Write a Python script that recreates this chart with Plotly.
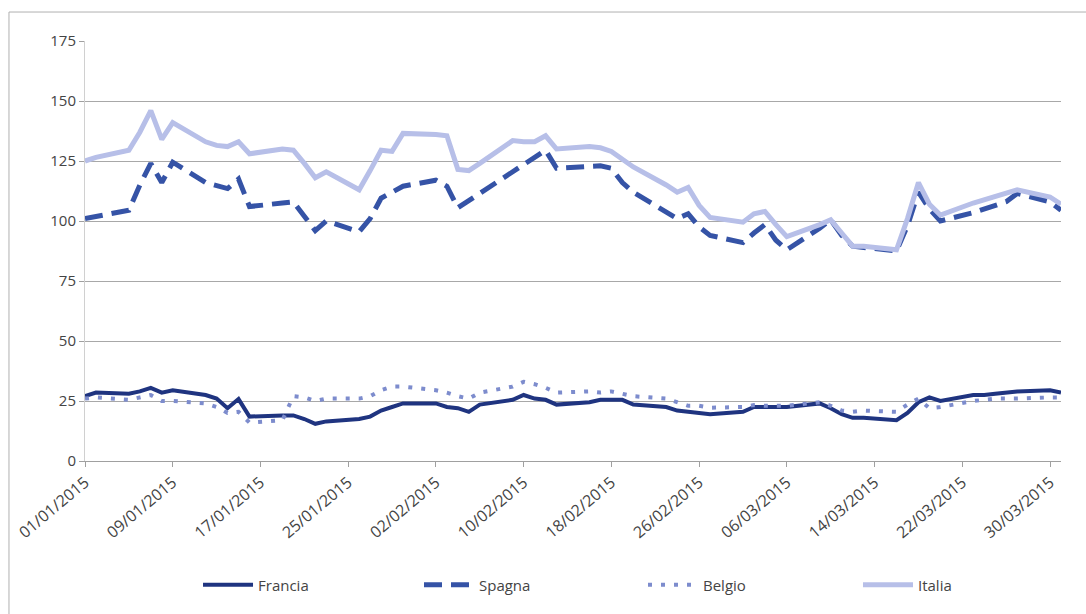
import plotly.graph_objects as go

dates = (
    ["2015-01-%02d" % d for d in [1, 2, 5, 6, 7, 8, 9, 12, 13, 14, 15, 16, 19, 20, 21, 22, 23, 26, 27, 28, 29, 30]]
    + ["2015-02-%02d" % d for d in [2, 3, 4, 5, 6, 9, 10, 11, 12, 13, 16, 17, 18, 19, 20, 23, 24, 25, 26, 27]]
    + ["2015-03-%02d" % d for d in [2, 3, 4, 5, 6, 9, 10, 11, 12, 13, 16, 17, 18, 19, 20, 23, 24, 25, 26, 27, 30, 31]]
)

francia = [27, 28.5, 28, 29, 30.5, 28.5, 29.5, 27.5, 26, 22, 25.8, 18.5, 19, 19, 17.5, 15.5, 16.5, 17.5, 18.5, 21, 22.5, 24,
           24, 22.5, 22, 20.5, 23.5, 25.5, 27.5, 26, 25.5, 23.5, 24.5, 25.5, 25.5, 25.5, 23.5, 22.5, 21, 20.5, 20, 19.5,
           20.5, 22.5, 22.5, 22.5, 22.5, 24, 22, 19.5, 18, 18, 17, 20, 24.5, 26.5, 25, 27.5, 27.5, 28, 28.5, 29, 29.5, 28.5]

spagna = [101, 102, 104.5, 115, 124, 116, 124.5, 116, 114.5, 113.5, 117.5, 106, 107.5, 108, 102, 96, 100, 95.5, 101, 109.5, 112, 114.5,
          117, 114.5, 105.5, 108.5, 111.5, 120.5, 123.5, 126.5, 129.5, 122, 123, 123, 122, 116, 112, 104, 101, 103, 97.5, 94,
          91, 95, 98.5, 92, 88, 97, 100.5, 94, 89.5, 89, 87.5, 98, 112, 105, 100, 103.5, 105, 106, 108, 111.5, 108, 104.5]

belgio = [26, 26.5, 25.5, 26.5, 27.5, 25, 25, 24, 22.5, 20, 20.5, 16, 17, 27, 26.5, 25, 26, 26, 27, 29.5, 31, 31,
          29.5, 28.5, 27, 26, 28.5, 31, 33, 32, 30.5, 28.5, 29, 28.5, 29, 28, 27, 26, 24.5, 23, 23, 22.2,
          22.5, 23.3, 23, 23, 23, 24.5, 23, 21, 20.5, 21, 20.5, 23.5, 26, 22, 22.5, 25, 25.5, 26, 26, 26, 26.5, 26.5]

italia = [125, 126.5, 129.5, 137, 146, 134, 141, 133, 131.5, 131, 133, 128, 130, 129.5, 124, 118, 120.5, 113, 121, 129.5, 129, 136.5,
          136, 135.5, 121.5, 121, 124, 133.5, 133, 133, 135.5, 130, 131, 130.5, 129, 125.5, 122.5, 115, 112, 114, 106.5, 101.5,
          99.5, 103, 104, 98.5, 93.5, 98.5, 100.5, 95, 89.5, 89.5, 88, 101, 116, 107, 102.5, 107.5, 109, 110.5, 111.5, 113, 110, 107]

tick_dates = ["2015-01-01", "2015-01-09", "2015-01-17", "2015-01-25", "2015-02-02", "2015-02-10",
              "2015-02-18", "2015-02-26", "2015-03-06", "2015-03-14", "2015-03-22", "2015-03-30"]
tick_labels = ["01/01/2015", "09/01/2015", "17/01/2015", "25/01/2015", "02/02/2015", "10/02/2015",
               "18/02/2015", "26/02/2015", "06/03/2015", "14/03/2015", "22/03/2015", "30/03/2015"]
y_ticks = [0, 25, 50, 75, 100, 125, 150, 175]

fig = go.Figure()
fig.add_trace(go.Scatter(x=dates, y=francia, name="Francia", mode="lines", legend="legend",
                         line=dict(color="#1f3480", width=4)))
fig.add_trace(go.Scatter(x=dates, y=spagna, name="Spagna", mode="lines", legend="legend2",
                         line=dict(color="#3553a6", width=5, dash="18px,9px")))
fig.add_trace(go.Scatter(x=dates, y=belgio, name="Belgio", mode="lines", legend="legend3",
                         line=dict(color="#7d8ccd", width=4, dash="4px,9px")))
fig.add_trace(go.Scatter(x=dates, y=italia, name="Italia", mode="lines", legend="legend4",
                         line=dict(color="#b7bfe8", width=5)))

font_family = "Open Sans, Noto Sans, sans-serif"
text_color = "#444444"


def leg(xp):
    return dict(orientation="h", x=xp, xanchor="left", y=-0.295, yanchor="middle",
                itemwidth=50, font=dict(size=15, color=text_color), bgcolor="rgba(0,0,0,0)")


fig.update_layout(
    width=1086, height=614,
    margin=dict(l=85, r=25, t=41, b=153),
    paper_bgcolor="white", plot_bgcolor="white",
    font=dict(family=font_family, size=15, color=text_color),
    showlegend=True,
    legend=leg(0.1158),
    legend2=leg(0.3422),
    legend3=leg(0.5717),
    legend4=leg(0.792),
    xaxis=dict(
        type="date",
        range=["2015-01-01", "2015-03-31"],
        tickmode="array", tickvals=tick_dates, ticktext=tick_labels,
        tickangle=-40, showgrid=False, automargin=False,
        tickfont=dict(size=16),
        showline=True, linecolor="#a0a0a0", linewidth=1,
        ticks="outside", ticklen=5, tickcolor="#a0a0a0",
        zeroline=False,
    ),
    yaxis=dict(
        range=[0, 175], tickvals=y_ticks, automargin=False,
        showgrid=True, gridcolor="#a8a8a8", gridwidth=1,
        showline=True, linecolor="#d0d0d0", linewidth=1,
        ticks="outside", ticklen=5, tickcolor="#a0a0a0",
        zeroline=False,
    ),
    shapes=[dict(type="rect", xref="paper", yref="paper",
                 x0=-0.0779, x1=1.05, y0=-0.40, y1=1.069,
                 line=dict(color="#b0b0b0", width=1), fillcolor="rgba(0,0,0,0)", layer="below")],
)

fig.write_html("out.html", config={"displayModeBar": False},
               post_script="document.body.style.margin='0';document.body.style.overflow='hidden';")
